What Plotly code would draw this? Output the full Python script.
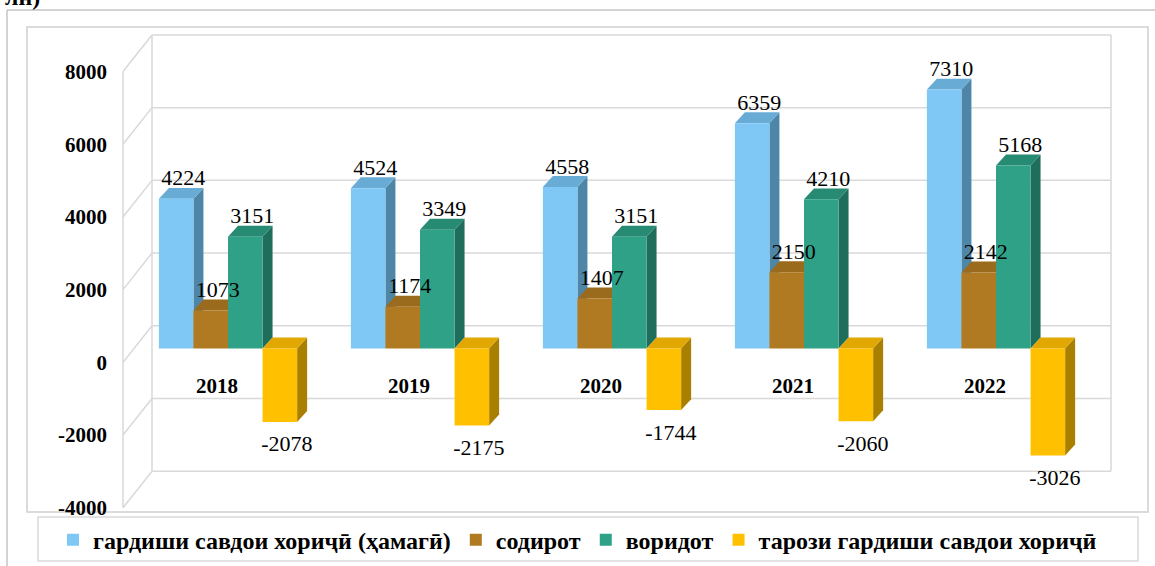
import plotly.graph_objects as go

# ---------------- data ----------------
years = ["2018", "2019", "2020", "2021", "2022"]
cat_idx = [0, 1, 2, 3, 4]
series_names = [
    "гардиши савдои хориҷӣ (ҳамагӣ)",
    "содирот",
    "воридот",
    "тарози гардиши савдои хориҷӣ",
]
total = [4224, 4524, 4558, 6359, 7310]
exports = [1073, 1174, 1407, 2150, 2142]
imports = [3151, 3349, 3151, 4210, 5168]
balance = [-2078, -2175, -1744, -2060, -3026]
y_ticks = [-4000, -2000, 0, 2000, 4000, 6000, 8000]

series_values = [total, exports, imports, balance]

# ---------------- style ----------------
W, H = 1155, 566          # reference frame (layout is computed in these pixels)
FIG_H = 576               # rendered figure height
FONT = "Times New Roman, Liberation Serif, DejaVu Serif, serif"
front_cols = ["#7fc8f6", "#b07a22", "#2ea187", "#ffc000"]
side_cols = ["#4e86a8", "#855d19", "#1f6d5b", "#a87f00"]
top_cols = ["#68acd6", "#9a6a1d", "#278a72", "#e0a800"]
grid_col = "#d9d9d9"


def px_x(p):
    return p / W


def px_y(p):
    return 1 - p / H


# plot area in pixels
TOP, BOT = 35, 510
LEFT, RIGHT = 132, 1092
# bar axis: zero at 349 px, units/px
BAR_ZERO, BAR_UPP = 349, 28.2
bar_range = [-(BOT - BAR_ZERO) * BAR_UPP, (BAR_ZERO - TOP) * BAR_UPP]
# front (label) plane
FR_ZERO, WALL_UPP = 363, 12000 / 437
lbl_range = [-(BOT - FR_ZERO) * WALL_UPP, (FR_ZERO - TOP) * WALL_UPP]
# back wall
BK_ZERO = TOP + 8000 / WALL_UPP
BK_LEFT, BK_RIGHT = 152, 1111
FR_LEFT = 123

x_upp = 1.0 / ((RIGHT - LEFT) / 5.0)  # category units per px
bar_w = 0.18
dx = 10 * x_upp
dy = 11 * BAR_UPP
front_shift = 11 * x_upp


def front_px(v):
    return FR_ZERO - v / WALL_UPP


def back_px(v):
    return BK_ZERO - v / WALL_UPP


fig = go.Figure()
shapes = []

# frames
shapes.append(dict(type="line", xref="paper", yref="paper", x0=px_x(7), x1=px_x(7),
                   y0=px_y(10), y1=px_y(H + 5), line=dict(color="#c4c4c4", width=1.5), layer="below"))
shapes.append(dict(type="line", xref="paper", yref="paper", x0=px_x(7), x1=px_x(W + 5),
                   y0=px_y(10), y1=px_y(10), line=dict(color="#c4c4c4", width=1.5), layer="below"))
shapes.append(dict(type="rect", xref="paper", yref="paper", x0=px_x(27), x1=px_x(1148),
                   y0=px_y(513), y1=px_y(27), line=dict(color="#cfcfcf", width=1.5), layer="below"))
# legend box
shapes.append(dict(type="rect", xref="paper", yref="paper", x0=px_x(38), x1=px_x(1138),
                   y0=px_y(562), y1=px_y(518), line=dict(color="#d9d9d9", width=1.5), layer="below"))

# back wall gridlines and side wall diagonals
for v in y_ticks:
    shapes.append(dict(type="line", xref="paper", yref="paper",
                       x0=px_x(BK_LEFT), x1=px_x(BK_RIGHT), y0=px_y(back_px(v)), y1=px_y(back_px(v)),
                       line=dict(color=grid_col, width=1.5), layer="below"))
    shapes.append(dict(type="line", xref="paper", yref="paper",
                       x0=px_x(FR_LEFT), x1=px_x(BK_LEFT), y0=px_y(front_px(v)), y1=px_y(back_px(v)),
                       line=dict(color=grid_col, width=1.5), layer="below"))
for xx in (BK_LEFT, BK_RIGHT):
    shapes.append(dict(type="line", xref="paper", yref="paper",
                       x0=px_x(xx), x1=px_x(xx), y0=px_y(back_px(y_ticks[0])), y1=px_y(back_px(y_ticks[-1])),
                       line=dict(color=grid_col, width=1.5), layer="below"))
shapes.append(dict(type="line", xref="paper", yref="paper",
                   x0=px_x(FR_LEFT), x1=px_x(FR_LEFT), y0=px_y(front_px(y_ticks[0])), y1=px_y(front_px(y_ticks[-1])),
                   line=dict(color=grid_col, width=1.5), layer="below"))

# 3D side / top faces of bars (data coordinates)
for i, vals in enumerate(series_values):
    off = -0.36 + i * bar_w
    for j, v in zip(cat_idx, vals):
        xl = j + off
        xr = xl + bar_w
        side = f"M {xr},0 L {xr},{v} L {xr+dx},{v+dy} L {xr+dx},{dy} Z"
        t = max(v, 0)
        top = f"M {xl},{t} L {xr},{t} L {xr+dx},{t+dy} L {xl+dx},{t+dy} Z"
        shapes.append(dict(type="path", xref="x", yref="y", path=side,
                           fillcolor=side_cols[i], line=dict(width=0), layer="below"))
        shapes.append(dict(type="path", xref="x", yref="y", path=top,
                           fillcolor=top_cols[i], line=dict(width=0), layer="below"))

# bars (front faces)
for i, (name, vals) in enumerate(zip(series_names, series_values)):
    fig.add_trace(go.Bar(
        x=cat_idx, y=vals, name=name, width=bar_w, offset=-0.36 + i * bar_w,
        marker=dict(color=front_cols[i], line=dict(width=0)),
        hoverinfo="skip",
    ))

# value labels
for i, vals in enumerate(series_values):
    off = -0.36 + i * bar_w
    xs = [j + off + bar_w / 2 + dx * 0.7 for j in cat_idx]
    ys = [v + dy - 3 * BAR_UPP if v >= 0 else v - 13 * BAR_UPP for v in vals]
    pos = ["top center" if v >= 0 else "bottom center" for v in vals]
    fig.add_trace(go.Scatter(
        x=xs, y=ys, mode="text", text=[str(v) for v in vals], textposition=pos,
        textfont=dict(family=FONT, size=22, color="black"),
        showlegend=False, hoverinfo="skip", cliponaxis=False,
    ))

# dummy trace to carry the front-plane axes
fig.add_trace(go.Scatter(x=cat_idx, y=[0] * len(cat_idx), xaxis="x2", yaxis="y2",
                         mode="markers", marker=dict(opacity=0), showlegend=False, hoverinfo="skip"))

fig.update_layout(
    width=W, height=FIG_H,
    margin=dict(l=0, r=0, t=0, b=0),
    font=dict(family=FONT),
    paper_bgcolor="white", plot_bgcolor="rgba(0,0,0,0)",
    barmode="overlay",
    showlegend=True,
    shapes=shapes,
    xaxis=dict(domain=[px_x(LEFT), px_x(RIGHT)], range=[-0.5, 4.5], visible=False, fixedrange=True),
    yaxis=dict(domain=[px_y(BOT), px_y(TOP)], range=bar_range, visible=False, fixedrange=True),
    xaxis2=dict(overlaying="x", range=[-0.5 + front_shift, 4.5 + front_shift],
                anchor="free", position=px_y(FR_ZERO), side="bottom",
                tickvals=cat_idx, ticktext=years, ticks="", showgrid=False, zeroline=False,
                showline=False, ticklabelstandoff=9,
                tickfont=dict(family=FONT, size=21, color="black", weight="bold")),
    yaxis2=dict(overlaying="y", range=lbl_range, anchor="free", position=px_x(FR_LEFT), side="left",
                tickvals=y_ticks, ticktext=[str(v) for v in y_ticks], ticks="", showgrid=False,
                zeroline=False, showline=False, ticklabelstandoff=16,
                tickfont=dict(family=FONT, size=21, color="black", weight="bold")),
    legend=dict(orientation="h", x=px_x(53), xanchor="left", y=px_y(541), yanchor="middle",
                bgcolor="rgba(0,0,0,0)", borderwidth=0, traceorder="normal",
                font=dict(family=FONT, size=24, color="black", weight="bold")),
    annotations=[dict(text="лн)", xref="paper", yref="paper", x=px_x(42), y=px_y(12),
                      xanchor="right", yanchor="bottom", showarrow=False,
                      font=dict(family=FONT, size=24, color="black", weight="bold"))],
)

post = (
    "var s=document.documentElement.style;s.margin='0';s.padding='0';s.overflow='hidden';"
    "var b=document.body.style;b.margin='0';b.padding='0';b.overflow='hidden';"
)
fig.write_html("out.html", post_script=post, config={"displayModeBar": False})
